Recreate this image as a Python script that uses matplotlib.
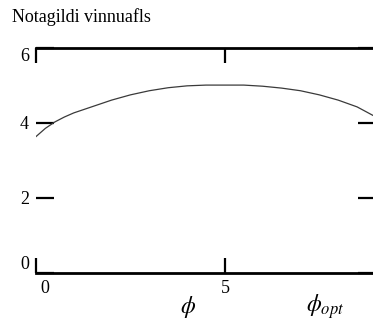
import matplotlib
matplotlib.use("Agg")
import matplotlib.pyplot as plt
import matplotlib.transforms as mtransforms

plt.rcParams['font.family'] = ['Liberation Serif', 'DejaVu Serif']
plt.rcParams['mathtext.fontset'] = 'stix'

# curve
phi = [0, 0.25, 0.5, 0.75, 1, 1.5, 2, 2.5, 3, 3.5, 4, 4.5, 5, 5.5, 6, 6.5, 7, 7.5, 8, 8.5, 9]
value = [3.63, 3.85, 4.02, 4.15, 4.26, 4.43, 4.6, 4.74, 4.85, 4.93, 4.98, 5.0, 5.0, 5.0,
         4.97, 4.92, 4.85, 4.74, 4.6, 4.42, 4.15]
xticks = [0, 5]
yticks = [0, 2, 4, 6]

fig = plt.figure(figsize=(3.73, 3.29), dpi=100)
ax = fig.add_axes([0.0965, 0.1702, 0.9115, 0.6854])

ax.plot(phi, value, color='#3a3a3a', lw=0.9)
ax.set_xlim(0, 9)
ax.set_ylim(0, 6)

# only top and bottom lines, Mathcad style
ax.spines['left'].set_visible(False)
ax.spines['right'].set_visible(False)
for s in ('top', 'bottom'):
    ax.spines[s].set_linewidth(2)
    ax.spines[s].set_clip_on(False)

ax.set_xticks(xticks)
ax.set_yticks(yticks)
ax.tick_params(axis='x', direction='in', length=11, width=1.6, top=True, pad=5, labelsize=13)
ax.tick_params(axis='y', direction='in', length=13, width=1.6, right=True, pad=5, labelsize=13)

shift = mtransforms.ScaledTranslation(4 / 100, 0, fig.dpi_scale_trans)
for lab in ax.get_xticklabels():
    if lab.get_text() == '0':
        lab.set_ha('left')
        lab.set_transform(lab.get_transform() + shift)
for lab in ax.get_yticklabels():
    if lab.get_text() == '6':
        lab.set_va('top')
    elif lab.get_text() == '0':
        lab.set_va('bottom')

fig.text(0.032, 0.975, 'Notagildi vinnuafls', fontsize=13, va='top', ha='left')
fig.text(188 / 373, 1 - 307 / 329, r'$\phi$', fontsize=17, ha='center', va='center')
fig.text(306 / 373, 1 - 307 / 329, r'$\phi_{opt}$', fontsize=17, ha='left', va='center')

fig.savefig('out.png', dpi=100)
